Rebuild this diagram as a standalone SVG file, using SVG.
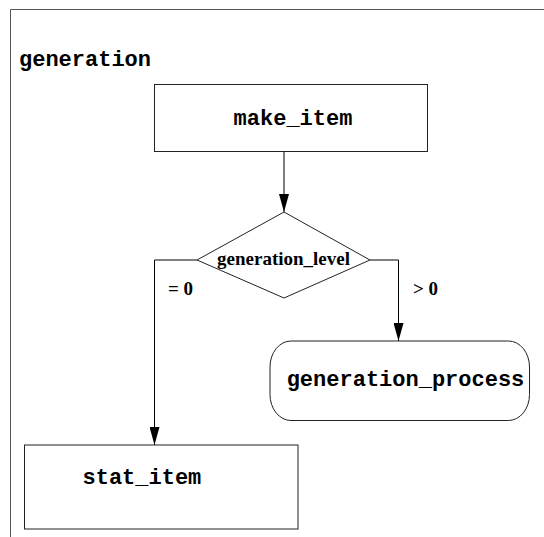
<svg xmlns="http://www.w3.org/2000/svg" width="544" height="537" viewBox="0 0 544 537">
  <style>
    .frame { fill: none; stroke: #555; stroke-width: 1; }
    .box { fill: #fff; stroke: #222; stroke-width: 1; }
    .edge { fill: none; stroke: #000; stroke-width: 1; }
    .mono { font-family: "Liberation Mono", "Courier New", monospace; font-weight: bold; font-size: 22px; fill: #000; }
    .serif { font-family: "Liberation Serif", "Times New Roman", serif; font-weight: bold; font-size: 19px; fill: #000; }
  </style>
  <defs>
    <marker id="arrow" viewBox="0 0 18 10" refX="18" refY="5" markerWidth="18" markerHeight="10" markerUnits="userSpaceOnUse" orient="auto">
      <path d="M0,0 L18,5 L0,10 Z" fill="#000"/>
    </marker>
  </defs>

  <rect width="544" height="537" fill="#fff"/>

  <!-- enclosing frame -->
  <g id="frame">
    <path class="frame" d="M544,9.5 H10.5 V537"/>
    <text class="mono" x="19" y="65.5">generation</text>
  </g>

  <!-- connectors -->
  <g id="connectors">
    <path class="edge" d="M284,152 V212" marker-end="url(#arrow)"/>
    <path class="edge" d="M197,260 H154.5 V445" marker-end="url(#arrow)"/>
    <path class="edge" d="M370,260 H398.5 V341" marker-end="url(#arrow)"/>
    <text class="serif" x="168" y="295">= 0</text>
    <text class="serif" x="413" y="295">&gt; 0</text>
  </g>

  <g id="make_item">
    <rect class="box" x="154.5" y="84.5" width="273" height="67"/>
    <text class="mono" x="293" y="124.5" text-anchor="middle">make_item</text>
  </g>

  <g id="generation_level">
    <polygon class="box" points="284,212 370,260 284,298 197,260"/>
    <text class="serif" x="283.5" y="265" text-anchor="middle">generation_level</text>
  </g>

  <g id="generation_process">
    <rect class="box" x="270" y="341" width="259.5" height="79.5" rx="21" ry="26"/>
    <text class="mono" x="405.5" y="386" text-anchor="middle">generation_process</text>
  </g>

  <g id="stat_item">
    <rect class="box" x="24.5" y="445" width="273.5" height="84"/>
    <text class="mono" x="82.5" y="483.5">stat_item</text>
  </g>
</svg>
